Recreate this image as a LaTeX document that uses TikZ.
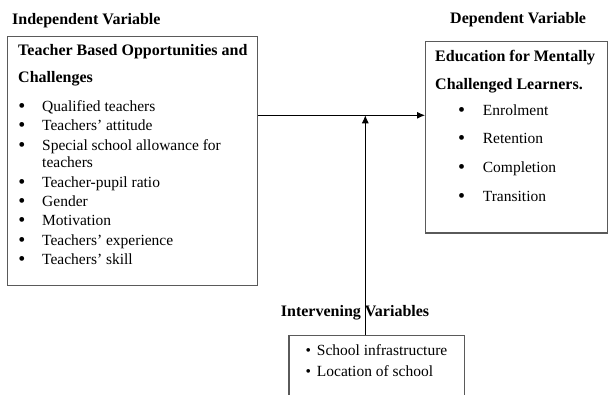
\documentclass[tikz,border=0pt]{standalone}
\usepackage{fontspec}
\setmainfont{Liberation Serif}
\usetikzlibrary{arrows.meta}
\definecolor{frame}{RGB}{90,90,90}
\begin{document}
\begin{tikzpicture}[x=1pt,y=-1pt,
  box/.style={draw=frame,line width=1.3pt,anchor=north west,inner sep=0pt},
  head/.style={anchor=base west,inner sep=0pt,font=\fontsize{16}{18}\selectfont\bfseries},
  txt/.style={anchor=base west,inner sep=0pt,font=\fontsize{15.5}{18}\selectfont},
  dot/.style={anchor=base,inner sep=0pt,font=\fontsize{20}{22}\selectfont},
  smalldot/.style={anchor=base,inner sep=0pt,font=\fontsize{15.5}{18}\selectfont},
  link/.style={line width=0.9pt,-{Latex[length=8pt,width=7pt]}}]
\useasboundingbox (0,0) rectangle (608,394);
\clip (0,0) rectangle (608,394);

% frames
\node[box,minimum width=249.5pt,minimum height=249pt] (indep) at (7,36) {};
\node[box,minimum width=182pt,minimum height=191.6pt] (dep) at (425,40.7) {};
\node[box,minimum width=175.7pt,minimum height=80pt] (interv) at (288.3,335) {};

% headings
\node[head] (indephead) at (12,24) {Independent Variable};
\node[head] (dephead) at (450,23.3) {Dependent Variable};
\node[head] (intervhead) at (280.7,316.7) {Intervening Variables};

% independent variable box
\node[head] (ititle1) at (18,55) {Teacher Based Opportunities and};
\node[head] (ititle2) at (18,82.7) {Challenges};
\foreach \n/\y/\t in {1/111/Qualified teachers,
                      2/130/Teachers’ attitude,
                      3/150/Special school allowance for,
                      4/187/Teacher-pupil ratio,
                      5/206.5/Gender,
                      6/225.8/Motivation,
                      7/245/Teachers’ experience,
                      8/264.3/Teachers’ skill}{
  \node[dot] (ib\n) at (22,\y+1) {\textbullet};
  \node[txt] (it\n) at (42,\y) {\t};
}
\node[txt] (it3b) at (42,167.3) {teachers};

% dependent variable box
\node[head] (dtitle1) at (435,61.7) {Education for Mentally};
\node[head] (dtitle2) at (435,89.3) {Challenged Learners.};
\foreach \n/\y/\t in {1/115/Enrolment,
                      2/143.3/Retention,
                      3/172.7/Completion,
                      4/201/Transition}{
  \node[dot] (db\n) at (461.7,\y+1) {\textbullet};
  \node[txt] (dt\n) at (482.7,\y) {\t};
}

% intervening variables box
\foreach \n/\y/\t in {1/355/School infrastructure,
                      2/376/Location of school}{
  \node[smalldot] (vb\n) at (308.3,\y) {\textbullet};
  \node[txt] (vt\n) at (316.7,\y) {\t};
}

% connectors
\coordinate (meet) at (365.3,115.3);
\draw[link] (indep.east |- meet) -- (dep.west |- meet);
\draw[link] (interv.north -| meet) -- (meet);
\end{tikzpicture}
\end{document}
